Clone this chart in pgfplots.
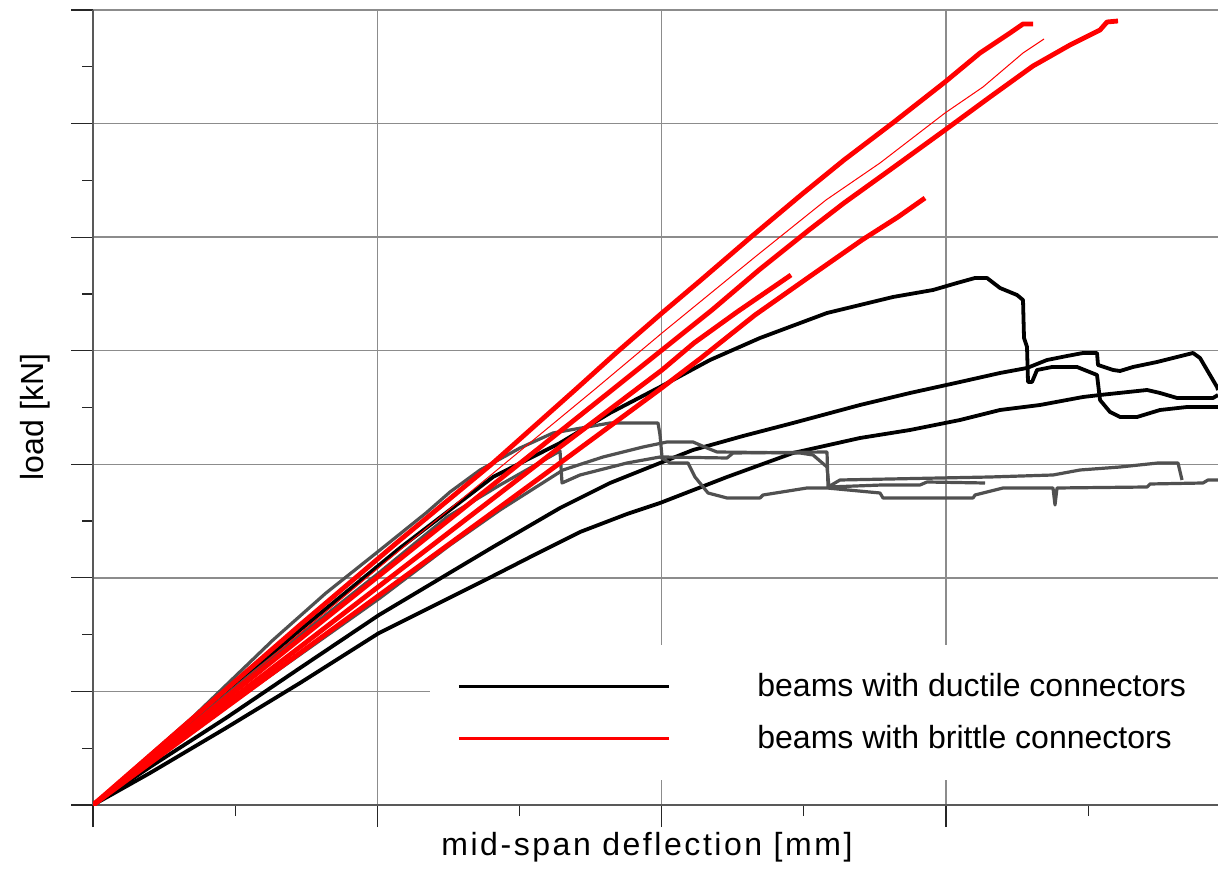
\documentclass[border=0pt]{standalone}
\usepackage{fontspec}
\setmainfont{Liberation Sans}
\usepackage{pgfplots}
\pgfplotsset{compat=1.18}
\definecolor{dgrey}{HTML}{505050}
\definecolor{gridc}{HTML}{8C8C8C}
\begin{document}
\begin{tikzpicture}
\begin{axis}[
  x=0.5pt, y=0.5pt,
  xmin=0, xmax=1125, ymin=0, ymax=795,
  axis x line*=bottom, axis y line*=left,
  axis line style={draw=black!65, line width=0.6pt},
  xtick={0,284.3,568.7,853}, minor xtick={142.2,426.5,710.8,995.2},
  ytick={0,113.57,227.14,340.71,454.29,567.86,681.43,795},
  minor ytick={56.79,170.36,283.93,397.5,511.07,624.64,738.21},
  xticklabels={}, yticklabels={},
  tick align=outside, major tick length=11pt, minor tick length=5.5pt,
  tick style={black!85, line width=0.6pt},
  grid=major, major grid style={draw=gridc, line width=0.7pt},
  xlabel={\addfontfeatures{LetterSpace=8}mid-span deflection [mm]},
  ylabel={load [kN]},
  label style={font=\fontsize{16}{19}\selectfont},
  xlabel style={at={(axis description cs:0.4924,-0.0629)}, anchor=base},
  ylabel style={at={(axis description cs:-0.0444,0.488)}, anchor=base, rotate=0},
  legend image code/.code={\draw[#1] (0pt,0pt) -- (105pt,0pt);},
  legend style={at={(axis cs:337,160)}, anchor=north west, fill=white, draw=none,
    inner xsep=13.5pt, inner ysep=12pt, row sep=9pt, column sep=41.5pt,
    font=\fontsize{16}{19}\selectfont, cells={anchor=west}},
]
\addlegendimage{black, line width=1.5pt}
\addlegendentry{beams with ductile connectors\hspace*{20pt}}
\addlegendimage{red, line width=1.5pt}
\addlegendentry{beams with brittle connectors\hspace*{20pt}}

% ductile (black)
\addplot[forget plot, black, line width=1.9pt, line join=round] coordinates {
(0,0) (107,90) (207,175) (307,257) (400,328) (467,362) (517,392) (567,418) (617,445)
(667,467) (734,492) (800,508) (840,515) (864,522) (882,527) (894,527) (907,517)
(924,510) (930,505) (931,467) (934,458) (935,423) (939,423) (944,435) (959,438)
(984,438) (994,434) (1004,430) (1007,405) (1017,393) (1027,388) (1044,388)
(1067,395) (1094,398) (1125,398)};
\addplot[forget plot, black, line width=1.9pt, line join=round] coordinates {
(0,0) (57,38) (133,87) (207,137) (286,190) (400,258) (467,297) (517,322) (567,342)
(600,355) (650,369) (700,382) (767,400) (817,412) (867,423) (907,432) (934,437)
(954,445) (974,449) (990,452) (1004,452) (1005,440) (1020,435) (1027,434)
(1040,438) (1064,443) (1100,452) (1107,447) (1124,418) (1125,415)};
\addplot[forget plot, black, line width=1.9pt, line join=round] coordinates {
(0,0) (57,32) (133,77) (207,122) (286,172) (400,229) (447,253) (487,273) (534,291)
(567,302) (634,328) (700,352) (767,367) (817,375) (867,385) (907,395) (947,400)
(990,408) (1007,410) (1054,415) (1067,412) (1084,407) (1120,407) (1125,410)};

% grey
\addplot[forget plot, dgrey, line width=1.6pt, line join=round] coordinates {
(0,0) (100,88) (180,165) (233,212) (287,255) (333,292) (357,313) (387,335)
(427,357) (460,372) (494,378) (517,382) (565,382) (567,370) (569,348) (634,347)
(640,352) (734,353) (735,318) (747,325) (897,328) (960,330) (987,335) (1027,338)
(1065,342) (1085,342) (1089,325)};
\addplot[forget plot, dgrey, line width=1.6pt, line join=round] coordinates {
(0,0) (157,130) (287,233) (354,288) (407,320) (467,354) (469,322) (487,330)
(534,342) (567,348) (577,342) (595,342) (602,328) (615,312) (634,307) (667,307)
(670,310) (714,317) (734,317) (787,312) (790,307) (880,307) (882,310) (910,317)
(960,317) (962,300) (964,317) (1054,318) (1057,321) (1110,322) (1115,325) (1125,325)};
\addplot[forget plot, dgrey, line width=1.6pt, line join=round] coordinates {
(0,0) (157,115) (287,207) (357,260) (407,295) (470,335) (510,348) (550,358)
(574,363) (600,363) (614,357) (624,353) (707,352) (720,350) (734,338) (736,318)
(789,320) (827,320) (834,323) (892,322)};

% brittle (red)
\addplot[forget plot, red, line width=2.4pt, line join=round] coordinates {
(0,0) (107,93) (207,180) (307,265) (400,342) (482,415) (523,452) (569,492) (608,525)
(658,568) (708,610) (751,645) (801,683) (852,723) (887,752) (917,772) (930,781) (940,781)};
\addplot[forget plot, red, line width=0.5pt, line join=round] coordinates {
(0,0) (157,130) (307,255) (501,415) (569,472) (662,548) (733,605) (787,642)
(852,692) (890,718) (930,752) (951,766)};
\addplot[forget plot, red, line width=2.4pt, line join=round] coordinates {
(0,0) (207,166) (357,286) (519,415) (569,455) (619,495) (666,535) (716,575)
(751,602) (801,638) (852,675) (897,708) (940,739) (977,760) (1007,775) (1014,783) (1025,784)};
\addplot[forget plot, red, line width=2.4pt, line join=round] coordinates {
(0,0) (207,152) (407,298) (467,342) (566,415) (608,447) (662,490) (716,528)
(769,565) (805,588) (832,607)};
\addplot[forget plot, red, line width=2.4pt, line join=round] coordinates {
(0,0) (207,158) (467,358) (569,435) (601,462) (644,493) (698,530)};

\coordinate (bbsw) at (axis cs:-93,-66);
\coordinate (bbne) at (axis cs:1125,805);
\end{axis}
\pgfresetboundingbox
\path[use as bounding box] (bbsw) rectangle (bbne);
\end{tikzpicture}
\end{document}
